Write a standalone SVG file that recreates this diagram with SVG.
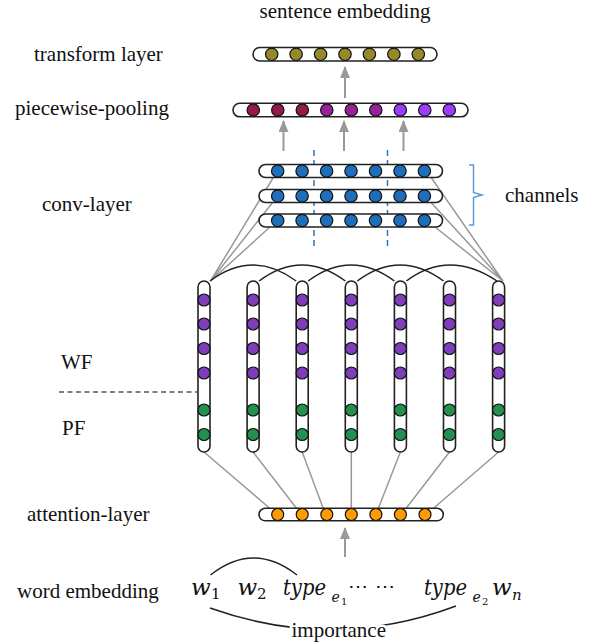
<svg xmlns="http://www.w3.org/2000/svg" width="594" height="643" viewBox="0 0 594 643">
  <defs>
    <style>
      .lbl { font-family: "Liberation Serif", "Times New Roman", serif; font-size: 21px; fill: #111; }
      .math { font-family: "DejaVu Serif", "Liberation Serif", serif; font-style: italic; fill: #111; }
      .up1 { font-style: normal; }
      .bar { fill: #fff; stroke: #222; stroke-width: 1.6; }
      .dot { stroke: #111; stroke-width: 1.2; }
      .gray { stroke: #999; stroke-width: 1.5; fill: none; }
      .up { stroke: #999; stroke-width: 2; fill: none; marker-end: url(#ah); }
      .arc { stroke: #222; stroke-width: 1.5; fill: none; }
      .t { fill: #958a2a; }
      .p1 { fill: #921a4c; }
      .p2 { fill: #9a2298; }
      .p3 { fill: #9c3cff; }
      .b { fill: #1f6ebc; }
      .wf { fill: #7e3dbb; }
      .pf { fill: #23904f; }
      .o { fill: #ff9a00; }
    </style>
    <marker id="ah" viewBox="0 0 12 10" refX="11" refY="5" markerWidth="12" markerHeight="10" markerUnits="userSpaceOnUse" orient="auto">
      <path d="M0,0 L12,5 L0,10 Z" fill="#999"/>
    </marker>
  </defs>
  <rect width="594" height="643" fill="#fff"/>

  <!-- side labels -->
  <g id="labels">
    <text class="lbl" x="345" y="18" text-anchor="middle" font-size="20">sentence embedding</text>
    <text class="lbl" x="34" y="61">transform layer</text>
    <text class="lbl" x="15" y="115">piecewise-pooling</text>
    <text class="lbl" x="42" y="211">conv-layer</text>
    <text class="lbl" x="61" y="369">WF</text>
    <text class="lbl" x="62" y="435">PF</text>
    <text class="lbl" x="27" y="521">attention-layer</text>
    <text class="lbl" x="17" y="598">word embedding</text>
    <text class="lbl" x="505" y="202">channels</text>
    <line x1="59" y1="392" x2="197" y2="392" stroke="#555" stroke-width="1.5" stroke-dasharray="5,3.5"/>
  </g>

  <!-- connectors -->
  <g id="connectors">
    <!-- arrows between layers -->
    <line class="up" x1="345" y1="98" x2="345" y2="67"/>
    <line class="up" x1="283.5" y1="151" x2="283.5" y2="121"/>
    <line class="up" x1="344" y1="151" x2="344" y2="121"/>
    <line class="up" x1="403.5" y1="151" x2="403.5" y2="121"/>
    <line class="up" x1="345" y1="557" x2="345" y2="528"/>
    <!-- channel splits -->
    <line x1="314" y1="150" x2="314" y2="246" stroke="#2e75b6" stroke-width="1.5" stroke-dasharray="6,4"/>
    <line x1="387.5" y1="150" x2="387.5" y2="246" stroke="#2e75b6" stroke-width="1.5" stroke-dasharray="6,4"/>
    <!-- conv rows to window ends -->
    <path class="gray" d="M210.5,281 L273,178 M210.5,281 L273,202 M210.5,281 L270,227"/>
    <path class="gray" d="M503,281 L431.5,178 M503,281 L431.5,203 M503,281 L435,227"/>
    <!-- convolution windows over columns -->
    <path class="arc" d="M210,281 Q253,249 296.2,281"/>
    <path class="arc" d="M259.1,281 Q302,249 345.3,281"/>
    <path class="arc" d="M308.2,281 Q351,249 394.4,281"/>
    <path class="arc" d="M357.3,281 Q400,249 443.5,281"/>
    <path class="arc" d="M406.4,281 Q449,249 497,281"/>
    <!-- columns to attention layer -->
    <path class="gray" d="M204,452 L270,508.5 M253.1,452 L296.7,508.5 M302.2,452 L323.3,508.5 M351.3,452 L351.3,508.5 M400.4,452 L378.3,508.5 M449.5,452 L406,508.5 M498.6,452 L433.3,508.5"/>
    <!-- channels brace -->
    <path d="M469,165 H473.5 V192.5 L482,195 L473.5,197.5 V225 H469" fill="none" stroke="#5b9bd5" stroke-width="1.5"/>
    <!-- word links -->
    <path class="arc" d="M210.5,575 Q253.5,541 297,575"/>
    <path class="arc" d="M210,608 Q333,652 456,606"/>
  </g>

  <!-- transform layer -->
  <g id="transform-layer">
    <rect class="bar" x="253" y="47.5" width="184" height="13.5" rx="6.75"/>
    <circle class="dot t" cx="271.7" cy="54.3" r="6.2"/>
    <circle class="dot t" cx="296.1" cy="54.3" r="6.2"/>
    <circle class="dot t" cx="320.6" cy="54.3" r="6.2"/>
    <circle class="dot t" cx="345" cy="54.3" r="6.2"/>
    <circle class="dot t" cx="369.4" cy="54.3" r="6.2"/>
    <circle class="dot t" cx="393.9" cy="54.3" r="6.2"/>
    <circle class="dot t" cx="418.3" cy="54.3" r="6.2"/>
  </g>

  <!-- piecewise pooling -->
  <g id="piecewise-pooling">
    <rect class="bar" x="233" y="103.3" width="235" height="13.5" rx="6.75"/>
    <circle class="dot p1" cx="253.3" cy="110" r="6.2"/>
    <circle class="dot p1" cx="277.8" cy="110" r="6.2"/>
    <circle class="dot p1" cx="302.3" cy="110" r="6.2"/>
    <circle class="dot p2" cx="326.8" cy="110" r="6.2"/>
    <circle class="dot p2" cx="351.3" cy="110" r="6.2"/>
    <circle class="dot p2" cx="375.8" cy="110" r="6.2"/>
    <circle class="dot p3" cx="400.3" cy="110" r="6.2"/>
    <circle class="dot p3" cx="424.8" cy="110" r="6.2"/>
    <circle class="dot p3" cx="449.3" cy="110" r="6.2"/>
  </g>

  <!-- convolution layer, three channels -->
  <g id="conv-layer">
    <g id="conv-1">
      <rect class="bar" x="259" y="164.5" width="183.5" height="13" rx="6.5"/>
      <circle class="dot b" cx="277.7" cy="171" r="6.2"/>
      <circle class="dot b" cx="302.1" cy="171" r="6.2"/>
      <circle class="dot b" cx="326.6" cy="171" r="6.2"/>
      <circle class="dot b" cx="351" cy="171" r="6.2"/>
      <circle class="dot b" cx="375.5" cy="171" r="6.2"/>
      <circle class="dot b" cx="400" cy="171" r="6.2"/>
      <circle class="dot b" cx="424.4" cy="171" r="6.2"/>
    </g>
    <g id="conv-2">
      <rect class="bar" x="259" y="189.5" width="183.5" height="13" rx="6.5"/>
      <circle class="dot b" cx="277.7" cy="196" r="6.2"/>
      <circle class="dot b" cx="302.1" cy="196" r="6.2"/>
      <circle class="dot b" cx="326.6" cy="196" r="6.2"/>
      <circle class="dot b" cx="351" cy="196" r="6.2"/>
      <circle class="dot b" cx="375.5" cy="196" r="6.2"/>
      <circle class="dot b" cx="400" cy="196" r="6.2"/>
      <circle class="dot b" cx="424.4" cy="196" r="6.2"/>
    </g>
    <g id="conv-3">
      <rect class="bar" x="259" y="214" width="183.5" height="13" rx="6.5"/>
      <circle class="dot b" cx="277.7" cy="220.5" r="6.2"/>
      <circle class="dot b" cx="302.1" cy="220.5" r="6.2"/>
      <circle class="dot b" cx="326.6" cy="220.5" r="6.2"/>
      <circle class="dot b" cx="351" cy="220.5" r="6.2"/>
      <circle class="dot b" cx="375.5" cy="220.5" r="6.2"/>
      <circle class="dot b" cx="400" cy="220.5" r="6.2"/>
      <circle class="dot b" cx="424.4" cy="220.5" r="6.2"/>
    </g>
  </g>

  <!-- word columns: WF (purple) over PF (green) -->
  <g id="columns">
    <g id="col-1" transform="translate(204,0)">
      <rect class="bar" x="-6" y="281" width="12" height="171" rx="6"/>
      <circle class="dot wf" cx="0" cy="300" r="6"/><circle class="dot wf" cx="0" cy="324" r="6"/>
      <circle class="dot wf" cx="0" cy="348.5" r="6"/><circle class="dot wf" cx="0" cy="373" r="6"/>
      <circle class="dot pf" cx="0" cy="410" r="6"/><circle class="dot pf" cx="0" cy="434.5" r="6"/>
    </g>
    <g id="col-2" transform="translate(253.1,0)">
      <rect class="bar" x="-6" y="281" width="12" height="171" rx="6"/>
      <circle class="dot wf" cx="0" cy="300" r="6"/><circle class="dot wf" cx="0" cy="324" r="6"/>
      <circle class="dot wf" cx="0" cy="348.5" r="6"/><circle class="dot wf" cx="0" cy="373" r="6"/>
      <circle class="dot pf" cx="0" cy="410" r="6"/><circle class="dot pf" cx="0" cy="434.5" r="6"/>
    </g>
    <g id="col-3" transform="translate(302.2,0)">
      <rect class="bar" x="-6" y="281" width="12" height="171" rx="6"/>
      <circle class="dot wf" cx="0" cy="300" r="6"/><circle class="dot wf" cx="0" cy="324" r="6"/>
      <circle class="dot wf" cx="0" cy="348.5" r="6"/><circle class="dot wf" cx="0" cy="373" r="6"/>
      <circle class="dot pf" cx="0" cy="410" r="6"/><circle class="dot pf" cx="0" cy="434.5" r="6"/>
    </g>
    <g id="col-4" transform="translate(351.3,0)">
      <rect class="bar" x="-6" y="281" width="12" height="171" rx="6"/>
      <circle class="dot wf" cx="0" cy="300" r="6"/><circle class="dot wf" cx="0" cy="324" r="6"/>
      <circle class="dot wf" cx="0" cy="348.5" r="6"/><circle class="dot wf" cx="0" cy="373" r="6"/>
      <circle class="dot pf" cx="0" cy="410" r="6"/><circle class="dot pf" cx="0" cy="434.5" r="6"/>
    </g>
    <g id="col-5" transform="translate(400.4,0)">
      <rect class="bar" x="-6" y="281" width="12" height="171" rx="6"/>
      <circle class="dot wf" cx="0" cy="300" r="6"/><circle class="dot wf" cx="0" cy="324" r="6"/>
      <circle class="dot wf" cx="0" cy="348.5" r="6"/><circle class="dot wf" cx="0" cy="373" r="6"/>
      <circle class="dot pf" cx="0" cy="410" r="6"/><circle class="dot pf" cx="0" cy="434.5" r="6"/>
    </g>
    <g id="col-6" transform="translate(449.5,0)">
      <rect class="bar" x="-6" y="281" width="12" height="171" rx="6"/>
      <circle class="dot wf" cx="0" cy="300" r="6"/><circle class="dot wf" cx="0" cy="324" r="6"/>
      <circle class="dot wf" cx="0" cy="348.5" r="6"/><circle class="dot wf" cx="0" cy="373" r="6"/>
      <circle class="dot pf" cx="0" cy="410" r="6"/><circle class="dot pf" cx="0" cy="434.5" r="6"/>
    </g>
    <g id="col-7" transform="translate(498.6,0)">
      <rect class="bar" x="-6" y="281" width="12" height="171" rx="6"/>
      <circle class="dot wf" cx="0" cy="300" r="6"/><circle class="dot wf" cx="0" cy="324" r="6"/>
      <circle class="dot wf" cx="0" cy="348.5" r="6"/><circle class="dot wf" cx="0" cy="373" r="6"/>
      <circle class="dot pf" cx="0" cy="410" r="6"/><circle class="dot pf" cx="0" cy="434.5" r="6"/>
    </g>
  </g>

  <!-- attention layer -->
  <g id="attention-layer">
    <rect class="bar" x="259" y="508.3" width="184.3" height="12.5" rx="6.25"/>
    <circle class="dot o" cx="277.7" cy="514.5" r="6"/>
    <circle class="dot o" cx="302.2" cy="514.5" r="6"/>
    <circle class="dot o" cx="326.8" cy="514.5" r="6"/>
    <circle class="dot o" cx="351.3" cy="514.5" r="6"/>
    <circle class="dot o" cx="375.9" cy="514.5" r="6"/>
    <circle class="dot o" cx="400.4" cy="514.5" r="6"/>
    <circle class="dot o" cx="425" cy="514.5" r="6"/>
  </g>

  <!-- input words -->
  <g id="words">
    <text class="math" x="191" y="595" font-size="23">w<tspan class="up1" x="211" y="599" font-size="15">1</tspan></text>
    <text class="math" x="237.5" y="595" font-size="23">w<tspan class="up1" x="257" y="599" font-size="15">2</tspan></text>
    <text class="math" x="283" y="595" font-size="22"><tspan textLength="43" lengthAdjust="spacingAndGlyphs">type</tspan><tspan x="331.5" y="602" font-size="14">e</tspan><tspan class="up1" x="341" y="605" font-size="10">1</tspan></text>
    <text class="math up1" x="348" y="593" font-size="20">⋯<tspan x="375">⋯</tspan></text>
    <text class="math" x="424" y="595" font-size="22"><tspan textLength="43" lengthAdjust="spacingAndGlyphs">type</tspan><tspan x="472.5" y="602" font-size="14">e</tspan><tspan class="up1" x="482" y="605" font-size="10">2</tspan></text>
    <text class="math" x="492" y="595" font-size="23">w<tspan x="512" y="600" font-size="15">n</tspan></text>
    <text class="lbl" x="291.5" y="637" font-size="19" stroke="#fff" stroke-width="5" paint-order="stroke">importance</text>
  </g>
</svg>
